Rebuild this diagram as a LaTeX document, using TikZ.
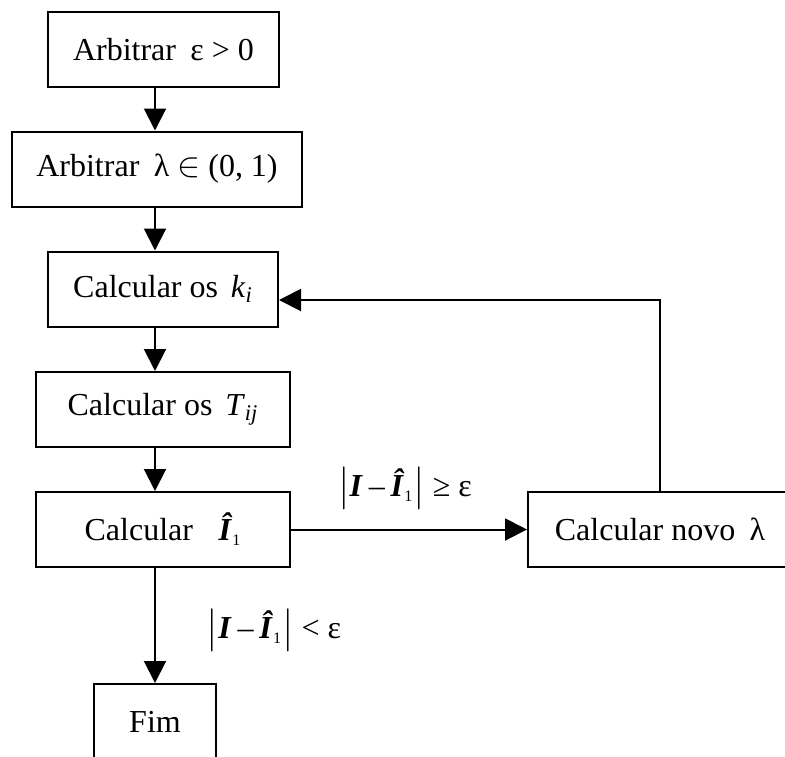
\documentclass[tikz,border=0pt]{standalone}
\usepackage{amsmath}
\usepackage{fontspec}
\setmainfont{Liberation Serif}
\usetikzlibrary{arrows.meta}
\usetikzlibrary{positioning}

\begin{document}
\begin{tikzpicture}[x=0.5pt,y=-0.5pt,
box/.style={draw, line width=1pt, minimum height=37.5pt, inner sep=0pt, font=\fontsize{16}{19}\selectfont},
lbl/.style={inner sep=0pt, font=\fontsize{16}{19}\selectfont},
seta/.style={line width=1pt, -{Triangle[length=11pt,width=11pt]}},
]
\newcommand{\Ibf}{\text{\textbf{\textit{I}}}}
\newcommand{\Ihat}{\text{\textbf{\textit{Î}}}_{\text{\fontsize{8}{9}\selectfont 1}}}
\useasboundingbox (0,0) rectangle (785,756);
\clip (0,0) rectangle (785,756);
% main column
\node[box, minimum width=115.5pt] (eps) at (163.5,49.5) {Arbitrar\hspace{0.45em}ε > 0};
\node[box, minimum width=145pt] (lam) at (157,169) {Arbitrar\hspace{0.45em}λ $\in$ (0, 1)};
\node[box, minimum width=115pt] (ki) at (163,289) {Calcular os\hspace{0.4em}$\text{\textit{k}}_{\text{\textit{i}}}$};
\node[box, minimum width=127pt] (tij) at (163,409.5) {Calcular os\hspace{0.4em}$\text{\textit{T}}_{\text{\textit{ij}}}$};
\node[box, minimum width=127pt] (calc) at (163,529.5) {Calcular\hspace{0.8em}$\Ihat$};
\node[box, minimum width=61pt, minimum height=38pt] (fim) at (155,722) {Fim};
\node[box, minimum width=132pt] (novo) at (660,529.5) {Calcular novo\hspace{0.45em}λ};
% conditions
\node[lbl] (ge) at (405,488) {$\bigl|\Ibf\,\text{–}\,\Ihat\bigr|$ ≥ ε};
\node[lbl] (lt) at (274,630) {$\bigl|\Ibf\,\text{–}\,\Ihat\bigr|$ < ε};
% arrows
\draw[seta] (eps.south -| fim) -- (lam.north -| fim);
\draw[seta] (lam.south -| fim) -- (ki.north -| fim);
\draw[seta] (ki.south -| fim) -- (tij.north -| fim);
\draw[seta] (tij.south -| fim) -- (calc.north -| fim);
\draw[seta] (calc.south -| fim) -- (fim.north);
\draw[seta] (calc.east) -- (novo.west);
\draw[seta] (novo.north) |- ([yshift=-5.5pt]ki.east);
\end{tikzpicture}
\end{document}
